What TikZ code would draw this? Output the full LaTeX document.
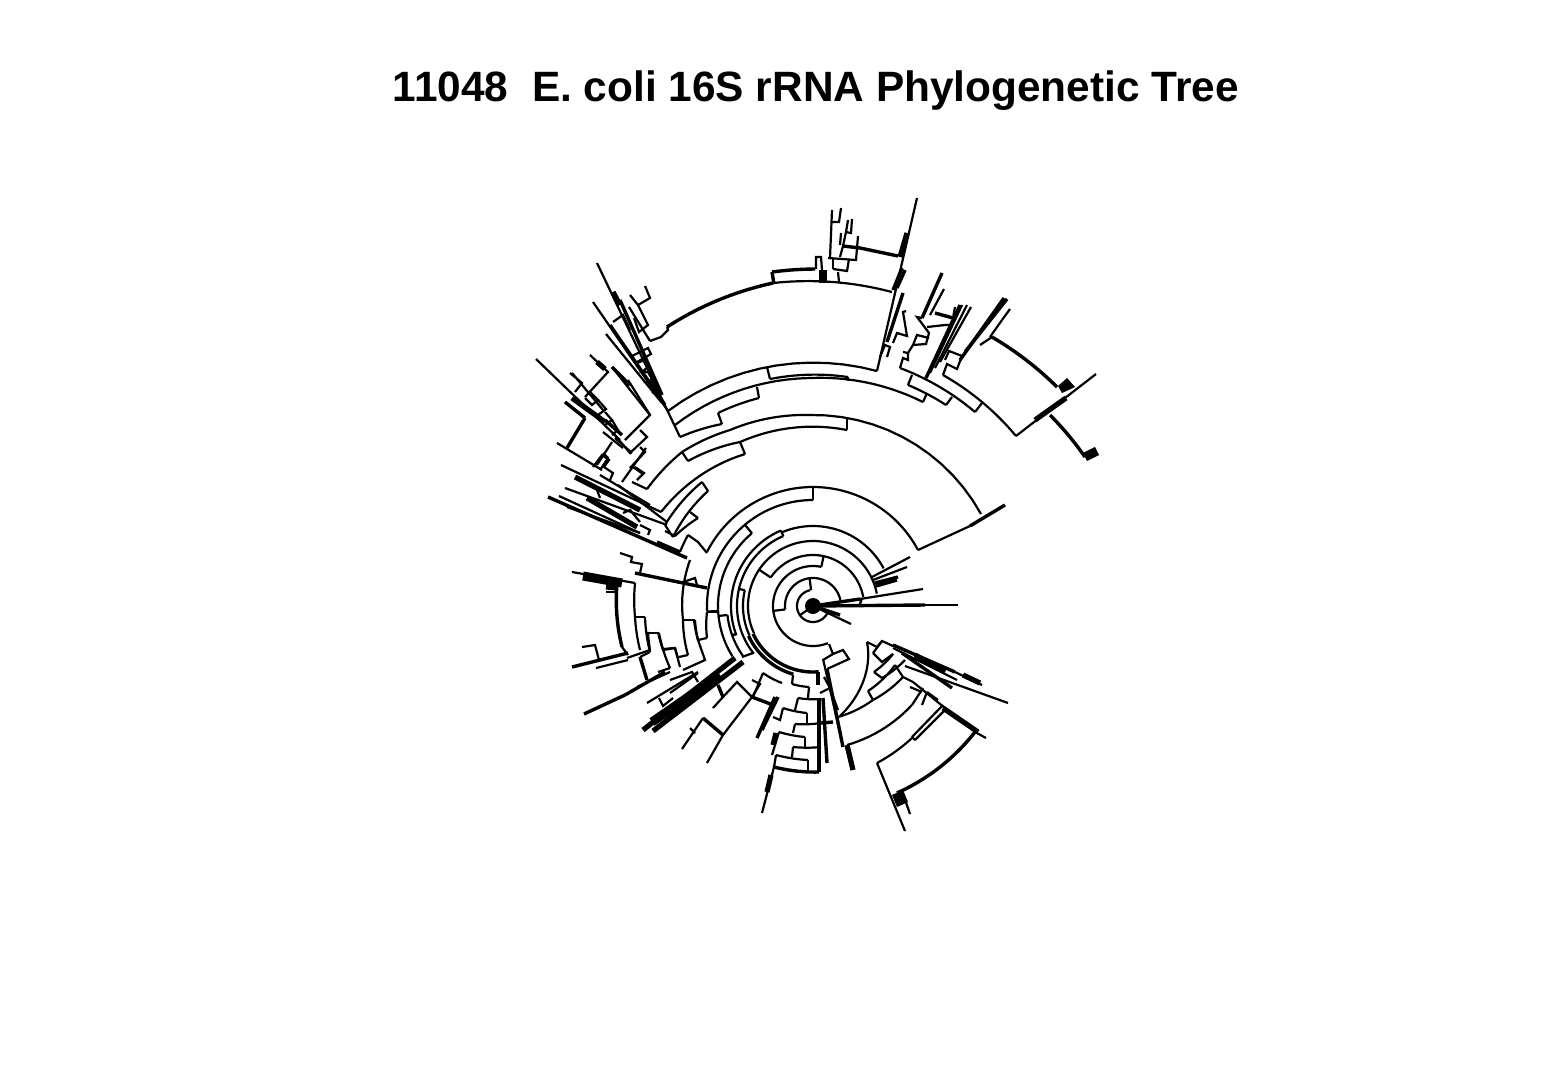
\documentclass[tikz,border=0pt]{standalone}
\usepackage{fontspec}
\setmainfont{Liberation Sans}

% one ring of the fan, radius and two angles
\newcommand{\fanring}[4][twig]{%
  \draw[#1] plot[domain=0:1,samples=70,variable=\t]
    ({813+#2*cos(#3+(#4-#3)*\t)},{606-#2*sin(#3+(#4-#3)*\t)});
}
% one arc of the fan, between two pixel points
\newcommand{\fanarc}[5][twig]{%
  \pgfmathsetmacro\ra{veclen(#2-813,#3-606)}
  \pgfmathsetmacro\rb{veclen(#4-813,#5-606)}
  \pgfmathsetmacro\aa{atan2(606-#3,#2-813)}
  \pgfmathsetmacro\ab{atan2(606-#5,#4-813)}
  \pgfmathsetmacro\dd{mod(\ab-\aa+540,360)-180}
  \draw[#1] plot[domain=0:1,samples=14,variable=\t]
    ({813+(\ra+(\rb-\ra)*\t)*cos(\aa+\dd*\t)},{606-(\ra+(\rb-\ra)*\t)*sin(\aa+\dd*\t)});
}

\begin{document}
\begin{tikzpicture}[x=0.5pt,y=-0.5pt,
    twig/.style={line width=1.1pt},
    heavy/.style={line width=1.7pt},
    bundle/.style={line width=2.6pt},
    clump/.style={line width=4.5pt}]

    \useasboundingbox (0,0) rectangle (1548,1071);

    % Title
    \node[font=\bfseries\fontsize{21.2}{24}\selectfont] (treetitle) at (816,91) {11048\ \ E. coli 16S rRNA Phylogenetic Tree};

    % Root
    \fill (813,606) circle (8);
    \node[inner sep=0pt,minimum size=0pt] (treeroot) at (813,606) {};

    % Inner rings
    \foreach \r/\a/\b in {16/100/340, 28/187/9, 40/78/292, 51/146/10, 65/11/205,
        80/113/28, 82/113/200, 76/113/219, 70/167/205, 95/130/212, 86/186/216,
        106/90/183, 119/90/28, 119/90/153} {
        \fanring{\r}{\a}{\b}
    }
    \fanring[heavy]{66}{205}{275}
    \fanring[heavy]{71}{205}{254}

    % Spokes between the rings
    \foreach \a/\r/\s in {215/0/16, 97/16/28, 187/28/40, 78/40/51, 146/51/65, 113/76/82,
        167/70/76, 200/82/86, 186/86/95, 130/95/106, 183/95/106, 90/106/119} {
        \draw[twig] ({813+\r*cos(\a)},{606-\r*sin(\a)}) -- ({813+\s*cos(\a)},{606-\s*sin(\a)});
    }

    % Long rays at the root
    \draw[heavy] (813,606) -- (925,605);
    \draw[twig] (925,605) -- (958,605);
    \draw[heavy] (813,606) -- (860,599);
    \draw[twig] (860,599) -- (923,589);
    \draw[heavy] (813,606) -- (840,615);
    \draw[twig] (813,606) -- (851,624);
    \draw[twig] (860,604) -- (862,598);

    % Arcs of the outer tree
    \foreach \xa/\ya/\xb/\yb in {773/283/892/292, 668/411/877/371, 675/425/810/378, 810/378/923/402,
        770/379/848/377, 759/398/718/413, 722/424/680/437, 647/489/682/452, 682/452/730/430,
        730/430/810/415, 810/415/981/514, 688/461/740/442, 745/454/661/512, 847/430/740/442,
        708/491/673/537, 665/525/702/482, 698/518/675/536, 688/535/680/552,
        900/368/975/412, 908/385/946/405, 943/375/1016/436,
        707/612/707/638, 698/640/694/620, 683/620/688/655, 690/560/683/620,
        678/658/675/648, 663/650/658/632, 648/632/650/650, 635/617/640/650, 645/617/650/652,
        659/633/670/668, 635/583/635/617, 695/620/698/640,
        792/684/809/687, 798/698/821/699, 783/708/807/713, 795/724/821/723,
        779/732/805/737, 793/747/821/747, 776/755/808/760,
        838/717/873/700, 873/700/903/677, 868/691/895/665, 840/716/867/642,
        847/745/912/705, 877/763/912/738, 874/672/893/654, 882/678/905/660, 763/673/782/683} {
        \fanarc{\xa}{\ya}{\xb}{\yb}
    }
    \foreach \xa/\ya/\xb/\yb in {667/327/773/283, 992/337/1057/387, 1050/415/1085/457,
        975/732/897/793, 774/767/819/772, 772/272/815/269, 617/583/622/647} {
        \fanarc[heavy]{\xa}{\ya}{\xb}{\yb}
    }

    % Short brackets
    \draw[twig] (767,367) -- (770,379);
    \draw[twig] (848,377) -- (848,381);
    \draw[twig] (757,387) -- (759,398);
    \draw[twig] (718,413) -- (722,424);
    \draw[twig] (682,452) -- (688,461);
    \draw[twig] (740,442) -- (745,454);
    \draw[twig] (847,418) -- (847,430);
    \draw[twig] (702,482) -- (708,491);
    \draw[twig] (673,537) -- (665,525);
    \draw[twig] (690,512) -- (698,518);
    \draw[twig] (675,536) -- (665,531);
    \draw[twig] (707,553) -- (698,542) -- (688,535);
    \draw[twig] (733,635) -- (737,634);
    \draw[twig] (923,402) -- (927,393);
    \draw[twig] (908,385) -- (912,375);
    \draw[twig] (952,397) -- (946,405);
    \draw[twig] (982,403) -- (975,412);

    % Right rays
    \draw[twig] (872,577) -- (910,557);
    \draw[twig] (873,580) -- (907,567);
    \draw[heavy] (875,583) -- (898,577);
    \draw[heavy] (876,586) -- (897,580);
    \draw[twig] (918,550) -- (970,526);
    \draw[heavy] (970,526) -- (1005,505);
    \draw[twig] (1016,436) -- (1096,374);
    \draw[bundle] (1035,420) -- (1066,398);
    \fill (1058,386) -- (1067,378) -- (1075,387) -- (1062,393) -- cycle;
    \draw[clump] (1085,457) -- (1097,451);

    % Top right clusters
    \draw[twig] (877,371) -- (917,198);
    \draw[bundle] (907,233) -- (900,257);
    \draw[heavy] (893,290) -- (902,268);
    \draw[heavy] (897,288) -- (905,270);
    \draw[heavy] (887,342) -- (903,293);
    \draw[twig] (893,343) -- (897,333) -- (907,336) -- (903,312) -- (906,311);
    \draw[twig] (880,357) -- (885,345) -- (890,347) -- (887,357);
    \draw[twig] (900,368) -- (903,358) -- (908,360) -- (908,353) -- (903,352);
    \draw[twig] (908,353) -- (913,345) -- (926,344) -- (929,333) -- (917,317) -- (922,318);
    \draw[twig] (913,345) -- (917,335) -- (929,338);
    \draw[heavy] (922,318) -- (942,273);
    \draw[twig] (930,315) -- (944,289);
    \draw[heavy] (935,313) -- (953,318);
    \draw[twig] (953,318) -- (955,307);
    \draw[twig] (927,327) -- (945,325) -- (950,325);
    \draw[twig] (943,375) -- (947,364) -- (957,369) -- (962,356) -- (949,351) -- (945,360);
    \draw[heavy] (926,378) -- (960,305);
    \draw[twig] (930,373) -- (962,305);
    \draw[twig] (935,368) -- (967,305);
    \draw[twig] (940,362) -- (971,307);
    \draw[heavy] (960,360) -- (1004,298);
    \draw[heavy] (965,352) -- (1007,299);
    \draw[twig] (980,345) -- (992,337);
    \draw[twig] (1002,320) -- (1010,309);
    \draw[twig] (990,337) -- (1002,320);

    % Top cluster
    \fill (819,270) rectangle (827,283);
    \draw[heavy] (772,272) -- (774,284);
    \draw[twig] (816,269) -- (816,257) -- (821,257) -- (822,270);
    \draw[twig] (832,210) -- (830,258);
    \draw[twig] (832,222) -- (839,222) -- (841,208);
    \draw[twig] (828,258) -- (856,260) -- (858,236);
    \draw[twig] (838,272) -- (839,282);
    \draw[twig] (833,269) -- (847,271) -- (849,259);
    \draw[twig] (833,269) -- (833,258);
    \draw[heavy] (843,246) -- (860,248) -- (898,256);
    \draw[twig] (840,257) -- (843,246) -- (846,232) -- (848,220);
    \draw[twig] (840,245) -- (841,233);
    \draw[twig] (846,232) -- (851,233) -- (852,219);

    % Upper left rays
    \draw[twig] (680,437) -- (597,263);
    \draw[bundle] (613,292) -- (620,305);
    \draw[heavy] (620,300) -- (662,395);
    \draw[twig] (668,411) -- (593,302);
    \draw[heavy] (610,325) -- (665,405);
    \draw[twig] (606,334) -- (662,403);
    \draw[twig] (667,327) -- (668,330) -- (661,337) -- (650,341);
    \draw[twig] (645,286) -- (650,298) -- (638,305) -- (630,295);
    \draw[twig] (638,305) -- (648,325) -- (639,332) -- (634,318);
    \draw[twig] (629,307) -- (650,341);
    \draw[twig] (637,363) -- (645,360) -- (648,367) -- (642,372) -- (648,372) -- (652,379) -- (647,382) -- (652,382) -- (656,390) -- (652,393);
    \draw[twig] (632,356) -- (648,348) -- (651,354) -- (637,362);
    \draw[twig] (613,322) -- (623,315) -- (630,330);

    % Left rays
    \draw[twig] (536,359) -- (620,440);
    \draw[twig] (590,355) -- (608,372) -- (585,397);
    \draw[bundle] (597,362) -- (605,369);
    \draw[twig] (612,367) -- (650,415) -- (625,440);
    \draw[heavy] (612,367) -- (630,385);
    \draw[twig] (628,380) -- (650,415);
    \draw[twig] (640,430) -- (647,437) -- (630,453) -- (613,433);
    \draw[twig] (640,447) -- (645,452) -- (630,468);
    \draw[twig] (635,467) -- (644,473) -- (637,480);
    \draw[heavy] (565,402) -- (585,418);
    \draw[heavy] (585,418) -- (567,448);
    \draw[twig] (557,443) -- (602,470);
    \draw[twig] (572,373) -- (603,410);
    \draw[twig] (570,373) -- (582,383) -- (575,392);
    \draw[bundle] (572,398) -- (605,422);
    \draw[heavy] (605,420) -- (622,435);
    \draw[twig] (590,392) -- (598,400) -- (592,405) -- (585,398);
    \draw[twig] (598,400) -- (606,409) -- (598,415);
    \draw[twig] (605,412) -- (612,420) -- (605,425);
    \draw[twig] (612,420) -- (618,430) -- (612,435);
    \draw[twig] (603,432) -- (623,448);
    \draw[twig] (615,438) -- (632,453);
    \draw[twig] (612,442) -- (597,465);
    \draw[twig] (603,453) -- (608,458) -- (600,470);
    \draw[twig] (647,489) -- (632,482);
    \draw[twig] (643,474) -- (633,467);
    \draw[twig] (622,482) -- (646,448);
    \draw[twig] (593,467) -- (602,455) -- (609,460) -- (604,467) -- (613,473) -- (610,480);

    % Lower left of the upper group
    \draw[heavy] (548,497) -- (687,558);
    \draw[twig] (559,496) -- (640,533);
    \draw[twig] (565,488) -- (667,525);
    \draw[twig] (561,465) -- (661,512);
    \draw[bundle] (575,477) -- (640,510);
    \draw[twig] (618,485) -- (667,522);
    \draw[twig] (600,475) -- (650,505);
    \draw[bundle] (587,498) -- (637,527);
    \draw[twig] (567,507) -- (640,533);
    \draw[twig] (623,513) -- (630,510) -- (640,522);
    \draw[twig] (640,525) -- (650,530) -- (648,535);
    \draw[twig] (597,490) -- (600,498);
    \draw[heavy] (657,542) -- (680,552);

    % Left fan below
    \draw[twig] (620,553) -- (632,557) -- (631,562) -- (642,564) -- (640,573);
    \draw[heavy] (635,573) -- (707,588);
    \draw[twig] (683,582) -- (695,578) -- (697,585);
    \draw[clump] (583,576) -- (622,583);
    \draw[twig] (572,572) -- (635,583);
    \draw[bundle] (606,587) -- (617,588);
    \draw[twig] (606,592) -- (617,592);
    \draw[twig] (622,647) -- (628,655);
    \draw[twig] (627,658) -- (650,650);
    \draw[twig] (640,657) -- (650,652);
    \draw[twig] (658,672) -- (670,668);
    \draw[twig] (663,649) -- (675,648) -- (680,667);
    \draw[twig] (648,633) -- (659,633);
    \draw[twig] (635,617) -- (645,617);
    \draw[twig] (683,620) -- (695,620);
    \draw[twig] (698,640) -- (707,638);
    \draw[twig] (679,657) -- (688,655);
    \draw[twig] (663,650) -- (675,648);
    \draw[twig] (683,670) -- (705,660) -- (698,640);
    \draw[twig] (707,612) -- (717,612);
    \draw[heavy] (640,657) -- (647,680);
    \draw[heavy] (572,667) -- (628,653);
    \draw[twig] (582,647) -- (595,645) -- (599,660);
    \draw[twig] (596,668) -- (628,660);
    \draw[heavy] (584,714) -- (625,695);
    \draw[heavy] (625,695) -- (665,672);

    % Lower left bundles
    \draw[clump] (720,675) -- (652,722);
    \draw[bundle] (735,658) -- (643,730);
    \draw[bundle] (743,662) -- (653,731);
    \draw[twig] (637,687) -- (670,672);
    \draw[twig] (647,703) -- (698,672);
    \draw[twig] (670,693) -- (698,673);
    \draw[twig] (659,698) -- (663,706) -- (673,698);
    \draw[twig] (670,680) -- (692,672) -- (698,682);
    \draw[twig] (713,708) -- (723,697) -- (737,682) -- (752,697) -- (760,684) -- (752,680);
    \draw[heavy] (723,697) -- (718,685);
    \draw[twig] (753,653) -- (742,657);
    \draw[twig] (753,697) -- (763,673);
    \draw[heavy] (752,697) -- (773,705);
    \draw[twig] (752,697) -- (723,735) -- (707,763);
    \draw[twig] (703,718) -- (682,749);
    \draw[heavy] (703,718) -- (723,735);
    \draw[twig] (690,728) -- (695,733);
    \draw[twig] (793,675) -- (792,684);

    % Ladder at the bottom
    \draw[twig] (809,687) -- (808,698);
    \draw[twig] (798,698) -- (795,710);
    \draw[twig] (807,713) -- (807,723);
    \draw[twig] (795,724) -- (793,733);
    \draw[twig] (805,737) -- (805,747);
    \draw[twig] (793,747) -- (792,757);
    \draw[twig] (808,760) -- (808,771);
    \draw[heavy] (819,698) -- (819,772);
    \draw[twig] (783,708) -- (780,720) -- (773,717);
    \draw[twig] (779,732) -- (772,755);
    \draw[twig] (776,755) -- (774,767);
    \draw[twig] (774,767) -- (762,813);
    \draw[bundle] (771,775) -- (767,792);
    \draw[heavy] (775,697) -- (757,738);
    \draw[heavy] (778,697) -- (762,730);
    \draw[bundle] (776,733) -- (773,745);

    % Centre of the lower fan
    \draw[twig] (829,644) -- (833,654) -- (843,650) -- (849,659) -- (827,669);
    \draw[twig] (823,660) -- (833,654);
    \draw[heavy] (827,669) -- (843,747);
    \draw[twig] (823,659) -- (839,728);
    \draw[twig] (830,688) -- (838,710);
    \draw[twig] (820,693) -- (830,688) -- (824,677);
    \draw[heavy] (823,698) -- (827,763);
    \draw[heavy] (821,723) -- (833,722);
    \draw[heavy] (818,672) -- (818,685);

    % Lower right clusters
    \draw[bundle] (847,745) -- (853,770);
    \draw[twig] (867,642) -- (877,647) -- (882,641) -- (893,646);
    \draw[twig] (873,653) -- (882,662) -- (893,654);
    \draw[twig] (873,653) -- (882,641);
    \draw[twig] (874,672) -- (882,678);
    \draw[twig] (873,700) -- (868,691);
    \draw[twig] (895,665) -- (903,677) -- (913,682);
    \draw[twig] (913,682) -- (945,708);
    \draw[twig] (912,705) -- (923,688);
    \draw[twig] (910,687) -- (922,692);
    \draw[twig] (927,692) -- (938,700);
    \draw[twig] (912,737) -- (943,705);
    \draw[twig] (915,740) -- (945,710);
    \draw[twig] (912,737) -- (915,740);
    \draw[twig] (927,692) -- (922,705);
    \draw[twig] (877,763) -- (905,831);
    \draw[bundle] (943,708) -- (978,732);
    \draw[twig] (975,732) -- (986,738);
    \fill (892,795) -- (903,790) -- (908,802) -- (897,807) -- cycle;
    \draw[twig] (902,791) -- (910,814);
    \draw[heavy] (893,645) -- (955,672);
    \draw[twig] (955,672) -- (982,685);
    \draw[twig] (893,648) -- (957,680);
    \draw[heavy] (902,653) -- (952,688);
    \draw[twig] (905,666) -- (1008,703);
    \draw[bundle] (963,675) -- (980,683);
    \draw[bundle] (915,655) -- (945,672);

\end{tikzpicture}
\end{document}
